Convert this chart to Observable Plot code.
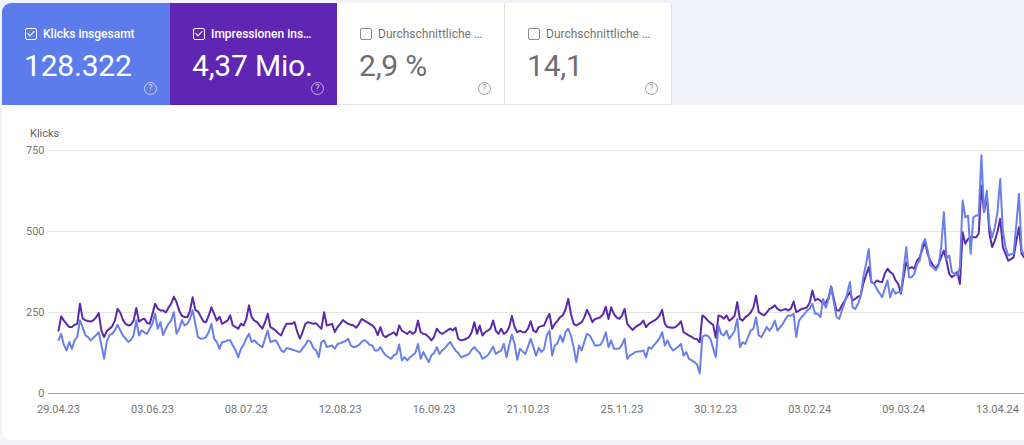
<!DOCTYPE html>
<html lang="de">
<head>
<meta charset="utf-8">
<script src="https://cdn.jsdelivr.net/npm/d3@7"></script>
<script src="https://cdn.jsdelivr.net/npm/@observablehq/plot@0.6"></script>
<style>
  html, body { margin: 0; padding: 0; }
  body { width: 1024px; height: 445px; overflow: hidden; background: #f2f4f9; font-family: Roboto, "Noto Sans", sans-serif; position: relative; }
  .card { position: absolute; top: 3px; height: 102px; box-sizing: border-box; }
  .c1 { left: 2px; width: 168px; background: #5c7cec; color: #fff; border-top-left-radius: 9px; }
  .c2 { left: 170px; width: 167px; background: #5e26b3; color: #fff; }
  .c3 { left: 337px; width: 168px; background: #fff; color: #757575; border-right: 1px solid #e3e3e3; border-bottom: 1px solid #e3e3e3; }
  .c4 { left: 505px; width: 167px; background: #fff; color: #757575; border-right: 1px solid #e3e3e3; border-bottom: 1px solid #e3e3e3; }
  .lab { position: absolute; left: 23px; top: 23px; font-size: 12px; line-height: 16px; white-space: nowrap; display: flex; align-items: center; }
  .c1 .lab, .c2 .lab { font-weight: 500; }
  .box { width: 10px; height: 10px; border: 1.5px solid currentColor; border-radius: 2px; margin-right: 6px; position: relative; display: inline-block; }
  .c3 .box, .c4 .box { border-color: #8a8a8a; }
  .box.on::after { content: ""; position: absolute; left: 2.5px; top: 0px; width: 3px; height: 6px; border: solid #fff; border-width: 0 1.5px 1.5px 0; transform: rotate(45deg); }
  .val { position: absolute; left: 22px; top: 44px; font-size: 30px; line-height: 38px; letter-spacing: -0.2px; white-space: nowrap; }
  .c3 .val, .c4 .val { color: #6e6e6e; }
  .help { position: absolute; right: 13px; top: 79px; width: 11px; height: 11px; border: 1.2px solid rgba(255,255,255,0.6); border-radius: 50%; font-size: 9px; line-height: 11px; text-align: center; color: rgba(255,255,255,0.75); }
  .c3 .help, .c4 .help { border-color: #9e9e9e; color: #9e9e9e; }
  #panel { position: absolute; left: 2px; top: 105px; width: 1030px; height: 335px; background: #fff; border-bottom-left-radius: 9px; }
  #ylab { position: absolute; left: 30px; top: 128px; font-size: 11px; line-height: 12px; color: #5f6368; }
  #chart { position: absolute; left: 0; top: 120px; }
</style>
</head>
<body>
<div id="panel"></div>
<div class="card c1"><div class="lab"><span class="box on"></span>Klicks insgesamt</div><div class="val">128.322</div><div class="help">?</div></div>
<div class="card c2"><div class="lab"><span class="box on"></span>Impressionen ins…</div><div class="val">4,37 Mio.</div><div class="help">?</div></div>
<div class="card c3"><div class="lab"><span class="box"></span>Durchschnittliche …</div><div class="val">2,9 %</div><div class="help">?</div></div>
<div class="card c4"><div class="lab"><span class="box"></span>Durchschnittliche …</div><div class="val">14,1</div><div class="help">?</div></div>
<div id="ylab">Klicks</div>
<div id="chart"></div>
<script>
// First day of the daily series
const startDate = "29.04.23";

// Klicks per day (29.04.23 onwards)
const klicks = [
  165, 184, 150, 133, 159, 138, 164,
  175, 226, 205, 180, 174, 164, 172,
  180, 189, 150, 107, 160, 180, 184,
  195, 212, 195, 179, 170, 159, 165,
  180, 226, 179, 195, 188, 184, 200,
  215, 246, 200, 220, 180, 200, 215,
  226, 251, 184, 200, 226, 210, 215,
  230, 257, 215, 174, 169, 170, 174,
  190, 215, 169, 159, 138, 159, 160,
  164, 164, 148, 133, 112, 138, 150,
  170, 184, 159, 164, 155, 148, 143,
  170, 194, 159, 162, 164, 150, 133,
  128, 140, 138, 136, 133, 130, 128,
  140, 150, 164, 159, 140, 133, 112,
  159, 164, 143, 146, 148, 138, 153,
  155, 159, 162, 169, 148, 143, 145,
  150, 159, 165, 159, 150, 148, 133,
  133, 143, 128, 118, 112, 107, 118,
  122, 151, 102, 112, 102, 112, 118,
  125, 153, 107, 128, 112, 97, 118,
  125, 143, 122, 133, 140, 150, 159,
  145, 133, 125, 112, 115, 118, 122,
  135, 143, 133, 125, 107, 112, 118,
  130, 145, 122, 128, 133, 153, 112,
  150, 182, 153, 104, 138, 130, 122,
  145, 169, 143, 117, 141, 128, 138,
  180, 194, 117, 148, 155, 179, 159,
  190, 200, 179, 143, 97, 148, 133,
  160, 184, 179, 164, 148, 148, 150,
  165, 189, 143, 164, 138, 138, 138,
  150, 169, 107, 117, 122, 128, 130,
  130, 133, 112, 143, 138, 150, 159,
  170, 189, 148, 164, 145, 133, 138,
  145, 153, 117, 128, 107, 102, 97,
  90, 62, 175, 180, 178, 168, 140,
  112, 210, 184, 179, 194, 169, 180,
  194, 230, 143, 158, 153, 174, 194,
  200, 235, 179, 174, 189, 205, 194,
  205, 225, 194, 205, 215, 230, 241,
  240, 246, 174, 225, 236, 245, 256,
  262, 277, 246, 246, 236, 292, 265,
  290, 328, 282, 236, 230, 256, 280,
  310, 344, 266, 261, 277, 300, 360,
  400, 446, 344, 339, 323, 310, 297,
  323, 349, 297, 323, 308, 313, 313,
  380, 452, 359, 359, 369, 400, 410,
  460, 477, 440, 395, 390, 380, 395,
  450, 560, 416, 426, 375, 370, 364,
  390, 596, 544, 549, 431, 544, 549,
  549, 735, 560, 626, 518, 482, 513,
  560, 662, 503, 452, 426, 430, 431,
  520, 616, 441, 426, 430, 420, 425
];

// Impressionen per day, shown in the chart's own units (right axis not visible)
const impressionen = [
  194, 238, 225, 215, 205, 205, 212,
  215, 277, 232, 226, 224, 222, 226,
  235, 248, 194, 174, 192, 200, 207,
  225, 261, 250, 228, 215, 210, 212,
  225, 264, 222, 228, 231, 218, 215,
  245, 277, 262, 256, 256, 250, 265,
  277, 299, 282, 255, 240, 236, 235,
  255, 297, 258, 253, 238, 222, 220,
  240, 266, 246, 225, 237, 215, 220,
  225, 241, 210, 205, 200, 215, 210,
  230, 272, 236, 225, 220, 210, 200,
  220, 246, 205, 200, 194, 185, 179,
  200, 215, 215, 215, 220, 190, 169,
  190, 215, 220, 218, 215, 217, 208,
  200, 251, 210, 212, 215, 190, 205,
  215, 227, 220, 215, 212, 210, 203,
  215, 230, 225, 220, 215, 210, 200,
  180, 205, 179, 174, 180, 184, 189,
  179, 210, 194, 189, 184, 192, 184,
  190, 225, 189, 184, 182, 174, 164,
  175, 200, 189, 184, 189, 195, 200,
  195, 203, 169, 164, 166, 169, 174,
  189, 220, 184, 210, 179, 189, 194,
  200, 225, 194, 184, 200, 184, 190,
  205, 239, 205, 189, 194, 189, 189,
  200, 223, 194, 189, 205, 208, 210,
  230, 246, 200, 215, 225, 236, 241,
  260, 292, 246, 215, 210, 215, 220,
  235, 258, 241, 220, 230, 232, 236,
  245, 268, 230, 266, 246, 235, 230,
  240, 261, 215, 205, 196, 205, 210,
  215, 225, 205, 215, 220, 225, 230,
  240, 258, 215, 205, 204, 203, 205,
  212, 223, 189, 184, 179, 175, 169,
  168, 158, 241, 235, 225, 218, 212,
  172, 241, 238, 231, 241, 225, 230,
  240, 282, 230, 225, 236, 241, 250,
  265, 302, 251, 246, 241, 250, 261,
  265, 272, 261, 256, 258, 261, 256,
  262, 284, 251, 256, 261, 263, 266,
  280, 318, 287, 292, 287, 277, 280,
  295, 330, 292, 256, 256, 272, 285,
  300, 313, 287, 292, 299, 302, 340,
  365, 390, 344, 339, 349, 345, 344,
  370, 385, 375, 369, 349, 338, 308,
  360, 405, 385, 390, 385, 410, 420,
  445, 467, 430, 410, 395, 385, 400,
  420, 441, 410, 369, 359, 365, 375,
  338, 498, 462, 477, 482, 482, 482,
  493, 642, 560, 610, 493, 452, 472,
  500, 539, 452, 431, 410, 415, 420,
  470, 513, 431, 420, 425, 430, 420
];

// Axis tick labels
const xTickLabels = ["29.04.23", "03.06.23", "08.07.23", "12.08.23", "16.09.23", "21.10.23", "25.11.23", "30.12.23", "03.02.24", "09.03.24", "13.04.24"];
const yTicks = [0, 250, 500, 750];

const parse = d3.utcParse("%d.%m.%y");
const start = parse(startDate);
const xTicks = xTickLabels.map(parse);
const rows = klicks.map((k, i) => ({ date: d3.utcDay.offset(start, i), klicks: k, impressionen: impressionen[i] }));

const chart = Plot.plot({
  width: 1024,
  height: 320,
  marginLeft: 48,
  marginRight: 0,
  marginTop: 30,
  marginBottom: 47,
  style: { fontFamily: "Roboto, sans-serif", fontSize: "11px", color: "#757575", background: "transparent", overflow: "hidden" },
  x: { type: "utc", domain: [start, xTicks[xTicks.length - 1]], range: [58, 997] },
  y: { domain: [0, 750] },
  marks: [
    Plot.gridY(yTicks.filter(t => t > 0), { stroke: "#e4e4e4", strokeOpacity: 1, strokeWidth: 1 }),
    Plot.ruleY([0], { stroke: "#a0a0a0", strokeWidth: 1 }),
    Plot.lineY(rows, { x: "date", y: "impressionen", stroke: "#5b2aaa", strokeWidth: 2, clip: "frame" }),
    Plot.lineY(rows, { x: "date", y: "klicks", stroke: "#6a80e8", strokeWidth: 2, clip: "frame" }),
    Plot.axisX({ ticks: xTicks, tickFormat: (d, i) => xTickLabels[i], tickSize: 0, tickPadding: 12, label: null, fill: "#757575" }),
    Plot.axisY({ ticks: yTicks, tickSize: 0, tickPadding: 4, label: null, fill: "#757575" })
  ]
});
document.getElementById("chart").appendChild(chart);
</script>
</body>
</html>
